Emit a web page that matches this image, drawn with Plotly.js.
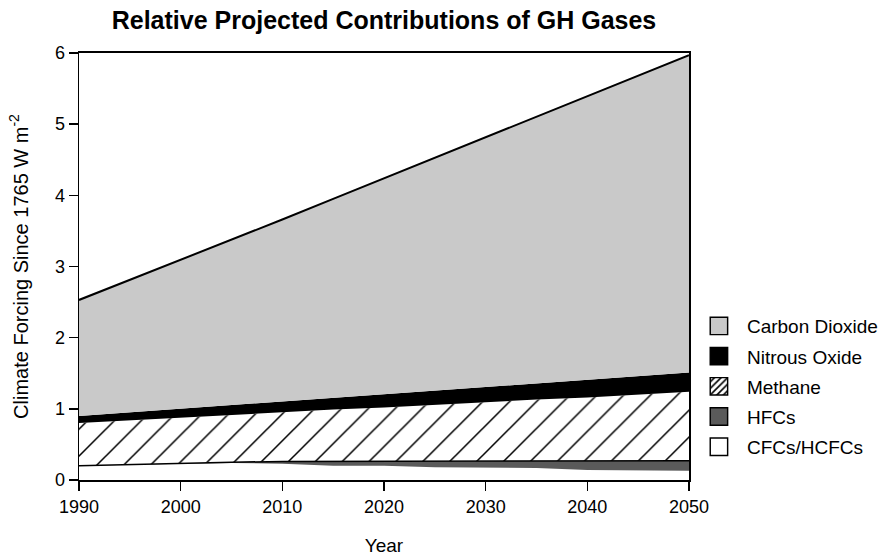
<!DOCTYPE html>
<html>
<head>
<meta charset="utf-8">
<script src="https://cdn.plot.ly/plotly-3.0.1.min.js"></script>
<style>html,body{margin:0;padding:0;background:#fff;}#chart{width:895px;height:556px;}</style>
</head>
<body>
<div id="chart"></div>
<script>
// ---- data ----
const years = [1990, 1995, 2000, 2005, 2010, 2015, 2020, 2025, 2030, 2035, 2040, 2045, 2050];
const cfcs     = [0.20, 0.22, 0.23, 0.24, 0.23, 0.20, 0.20, 0.18, 0.17, 0.17, 0.14, 0.13, 0.13];
const hfcs     = [0.00, 0.00, 0.00, 0.01, 0.03, 0.06, 0.07, 0.09, 0.10, 0.10, 0.13, 0.14, 0.14];
const methane  = [0.60, 0.62, 0.65, 0.66, 0.69, 0.73, 0.75, 0.79, 0.82, 0.86, 0.89, 0.93, 0.97];
const nitrous  = [0.10, 0.11, 0.12, 0.14, 0.15, 0.16, 0.18, 0.19, 0.21, 0.22, 0.24, 0.25, 0.27];
const co2      = [1.63, 1.86, 2.09, 2.32, 2.56, 2.80, 3.04, 3.27, 3.51, 3.75, 3.99, 4.23, 4.46];
const seriesNames = ['CFCs/HCFCs', 'HFCs', 'Methane', 'Nitrous Oxide', 'Carbon Dioxide'];
const xTickVals = [1990, 2000, 2010, 2020, 2030, 2040, 2050];
const yTickVals = [0, 1, 2, 3, 4, 5, 6];

const FONT = '"Liberation Sans", Arial, Helvetica, sans-serif';
const colors = {
  'CFCs/HCFCs': '#ffffff',
  'HFCs': '#5a5a5a',
  'Methane': '#ffffff',
  'Nitrous Oxide': '#000000',
  'Carbon Dioxide': '#c9c9c9'
};
const values = [cfcs, hfcs, methane, nitrous, co2];
const lineW = {'CFCs/HCFCs': 0, 'HFCs': 1.5, 'Methane': 0, 'Nitrous Oxide': 0, 'Carbon Dioxide': 2};

const traces = [];
seriesNames.forEach((name, i) => {
  const t = {
    type: 'scatter', mode: 'lines', x: years, y: values[i], name: name,
    stackgroup: 'one', showlegend: false,
    fillcolor: colors[name],
    line: {color: '#000', width: lineW[name] || 0.01, shape: 'linear'},
    hoverinfo: 'skip'
  };
  if (name === 'Methane') {
    t.fillpattern = {shape: '/', fgcolor: '#000', bgcolor: '#fff', size: 19, solidity: 0.08};
  }
  traces.push(t);
});

// legend entries (top to bottom)
const legendOrder = ['Carbon Dioxide', 'Nitrous Oxide', 'Methane', 'HFCs', 'CFCs/HCFCs'];
legendOrder.forEach((name) => {
  const m = {color: colors[name], line: {color: '#000', width: 1}};
  if (name === 'Methane') m.pattern = {shape: '/', fgcolor: '#000', bgcolor: '#fff', size: 4, solidity: 0.35};
  traces.push({type: 'bar', x: [null], y: [null], name: name, marker: m, showlegend: true, legendgroup: name});
});

const layout = {
  width: 895, height: 556,
  paper_bgcolor: '#fff', plot_bgcolor: '#fff',
  margin: {l: 79, r: 204, t: 53, b: 76, pad: 0},
  title: {
    text: '<b>Relative Projected Contributions of GH Gases</b>',
    font: {family: FONT, size: 25, color: '#000'},
    x: 0.5, xref: 'paper', xanchor: 'center',
    y: 1 - 20 / 556, yref: 'container', yanchor: 'middle'
  },
  xaxis: {
    range: [1990, 2050], tickvals: xTickVals, ticktext: xTickVals.map(String),
    showgrid: false, zeroline: false,
    showline: true, linecolor: '#000', linewidth: 2, mirror: true,
    ticks: 'outside', ticklen: 9, tickwidth: 1.5, tickcolor: '#000',
    tickfont: {family: FONT, size: 18, color: '#000'},
    title: {text: 'Year', font: {family: FONT, size: 19, color: '#000'}, standoff: 24}
  },
  yaxis: {
    range: [0, 6], tickvals: yTickVals, ticktext: yTickVals.map(String),
    showgrid: false, zeroline: false,
    showline: true, linecolor: '#000', linewidth: 1.5, mirror: true,
    ticks: 'outside', ticklen: 9, tickwidth: 1.5, tickcolor: '#000',
    tickfont: {family: FONT, size: 18, color: '#000'},
    title: {text: 'Climate Forcing Since 1765 W m<sup>-2</sup>', font: {family: FONT, size: 20, color: '#000'}, standoff: 21}
  },
  showlegend: true,
  legend: {
    x: 1.0294, xanchor: 'left', y: 0.405, yanchor: 'top',
    font: {family: FONT, size: 19, color: '#000'},
    bgcolor: 'rgba(0,0,0,0)', borderwidth: 0,
    traceorder: 'grouped', tracegroupgap: 2.5
  },
  hovermode: false
};

function enlargeSwatches(gd) {
  gd.querySelectorAll('.legend .legendpoints path').forEach((p) => {
    if (p.getAttribute('data-big')) return;
    const tr = p.getAttribute('transform') || '';
    p.setAttribute('transform', tr + ' translate(-8,0) scale(1.45)');
    p.setAttribute('data-big', '1');
  });
}
Plotly.newPlot('chart', traces, layout, {staticPlot: true, displayModeBar: false}).then((gd) => {
  enlargeSwatches(gd);
  setTimeout(() => enlargeSwatches(gd), 50);
});
</script>
</body>
</html>
